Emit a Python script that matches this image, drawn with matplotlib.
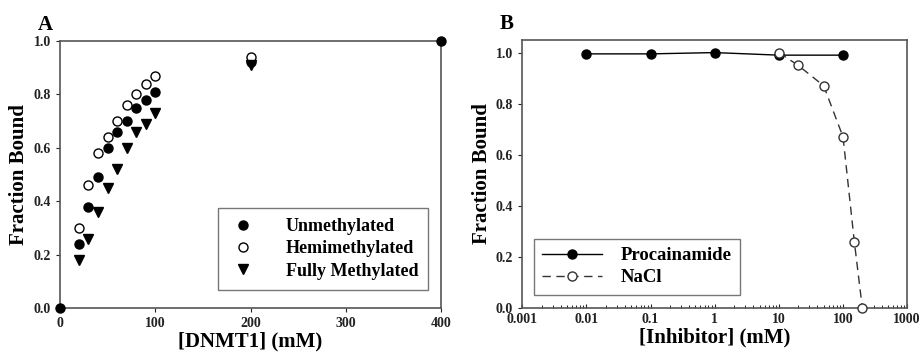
import numpy as np
import matplotlib.pyplot as plt

plt.rcParams['font.family'] = ['Liberation Serif', 'DejaVu Serif']
plt.rcParams['font.weight'] = 'bold'

# Panel A data: DNMT1 titration
dnmt1 = [20, 30, 40, 50, 60, 70, 80, 90, 100, 200]
unmethylated = [0.24, 0.38, 0.49, 0.60, 0.66, 0.70, 0.75, 0.78, 0.81, 0.92]
hemimethylated = [0.30, 0.46, 0.58, 0.64, 0.70, 0.76, 0.80, 0.84, 0.87, 0.94]
fully_methylated = [0.18, 0.26, 0.36, 0.45, 0.52, 0.60, 0.66, 0.69, 0.73, 0.91]
# end points shared by the series
end_x = [0, 400]
end_y = [0.0, 1.0]

# Panel B data: inhibitors
proc_x = [0.01, 0.1, 1, 10, 100]
proc_y = [0.995, 0.995, 1.0, 0.99, 0.99]
nacl_x = [10, 20, 50, 100, 150, 200]
nacl_y = [1.0, 0.95, 0.87, 0.67, 0.26, 0.0]

fig = plt.figure(figsize=(9.21, 3.62), dpi=100)
axA = fig.add_axes([0.065, 0.149, 0.414, 0.738])
axB = fig.add_axes([0.567, 0.149, 0.418, 0.741])

spine_col = '#555555'
for ax in (axA, axB):
    for s in ax.spines.values():
        s.set_color(spine_col)
        s.set_linewidth(1.2)
    ax.tick_params(labelsize=10, colors='#222222', width=0.8, length=3)

# Panel A
ms = 6.5
axA.plot(dnmt1, unmethylated, 'o', color='black', ms=ms, label='Unmethylated', clip_on=False)
axA.plot(dnmt1, hemimethylated, 'o', mfc='white', mec='black', mew=1.0, ms=ms,
         label='Hemimethylated', clip_on=False)
axA.plot(dnmt1, fully_methylated, 'v', color='black', ms=ms, label='Fully Methylated', clip_on=False)
axA.plot(end_x, end_y, 'o', color='black', ms=ms, clip_on=False, zorder=5)
axA.set_xlim(0, 400)
axA.set_ylim(0, 1.0)
axA.set_xticks([0, 100, 200, 300, 400])
axA.set_yticks([0.0, 0.2, 0.4, 0.6, 0.8, 1.0])
axA.set_yticklabels(['0.0', '0.2', '0.4', '0.6', '0.8', '1.0'])
axA.tick_params(direction='out')
axA.set_xlabel('[DNMT1] (mM)', fontsize=15, fontweight='bold', labelpad=1)
axA.set_ylabel('Fraction Bound', fontsize=15, fontweight='bold', labelpad=3)
legA = axA.legend(loc='lower right', fontsize=13, frameon=True, fancybox=False,
                  edgecolor=spine_col, handletextpad=1.6, borderpad=0.55,
                  labelspacing=0.3, handlelength=1.6, bbox_to_anchor=(0.99, 0.035))
legA.get_frame().set_linewidth(1.0)
for t in legA.get_texts():
    t.set_fontweight('bold')
axA.text(-0.058, 1.04, 'A', transform=axA.transAxes, fontsize=15, fontweight='bold')

# Panel B
axB.plot(proc_x, proc_y, '-o', color='black', lw=1.0, ms=ms, label='Procainamide', clip_on=False)
axB.plot(nacl_x, nacl_y, '--o', color='#333333', lw=1.0, ms=ms, mfc='white', mec='#333333',
         mew=1.0, dashes=(6, 4), label='NaCl', clip_on=False, zorder=4)
axB.set_xscale('log')
axB.set_xlim(0.001, 1000)
axB.set_ylim(0, 1.05)
axB.set_xticks([0.001, 0.01, 0.1, 1, 10, 100, 1000])
axB.set_xticklabels(['0.001', '0.01', '0.1', '1', '10', '100', '1000'])
axB.set_yticks([0.0, 0.2, 0.4, 0.6, 0.8, 1.0])
axB.set_yticklabels(['0.0', '0.2', '0.4', '0.6', '0.8', '1.0'])
axB.tick_params(axis='x', which='both', direction='in', top=False)
axB.tick_params(axis='x', which='minor', length=2)
axB.tick_params(axis='y', direction='out')
axB.set_xlabel('[Inhibitor] (mM)', fontsize=15, fontweight='bold', labelpad=1)
axB.set_ylabel('Fraction Bound', fontsize=15, fontweight='bold', labelpad=3)
legB = axB.legend(loc='lower left', fontsize=13.5, frameon=True, fancybox=False,
                  edgecolor=spine_col, handlelength=3.2, handletextpad=1.0,
                  borderpad=0.45, labelspacing=0.25, bbox_to_anchor=(0.005, 0.015))
legB.get_frame().set_linewidth(1.0)
for t in legB.get_texts():
    t.set_fontweight('bold')
axB.text(-0.058, 1.04, 'B', transform=axB.transAxes, fontsize=15, fontweight='bold')

for ax in (axA, axB):
    for lab in ax.get_xticklabels() + ax.get_yticklabels():
        lab.set_fontweight('bold')

fig.savefig('out.png', dpi=100)
